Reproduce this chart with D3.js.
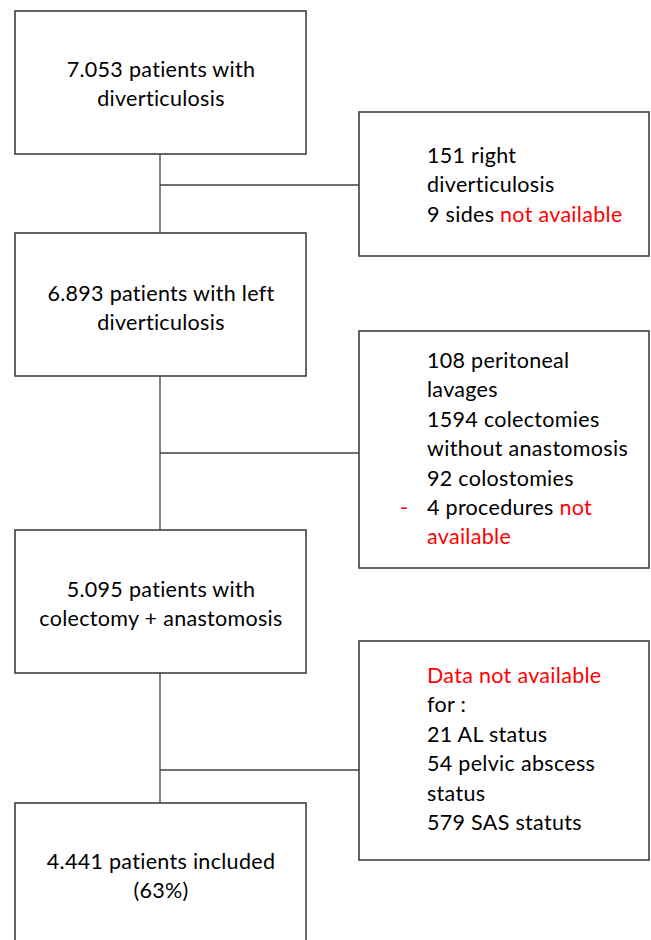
<!DOCTYPE html>
<html>
<head>
<meta charset="utf-8">
<script src="https://cdn.jsdelivr.net/npm/d3@7"></script>
<style>
  body { margin: 0; background: #fff; }
  svg { display: block; }
  text { font-family: Lato, "Open Sans", sans-serif; font-size: 21.5px; letter-spacing: 0.3px; fill: #000; }
</style>
</head>
<body>
<div id="flow" data-js-graph></div>
<script>
// main flow steps (left column)
const mainBoxes = [
  ['7.053 patients with', 'diverticulosis'],
  ['6.893 patients with left', 'diverticulosis'],
  ['5.095 patients with', 'colectomy + anastomosis'],
  ['4.441 patients included', '(63%)'],
];

// exclusions (right column), segments starting with * are red
const exclusionBoxes = [
  [['151 right'], ['diverticulosis'], ['9 sides ', '*not available']],
  [['108 peritoneal'], ['lavages'], ['1594 colectomies'], ['without anastomosis'],
    ['92 colostomies'], ['*-', '4 procedures ', '*not'], ['*available']],
  [['*Data not available'], ['for :'], ['21 AL status'], ['54 pelvic abscess'],
    ['status'], ['579 SAS statuts']],
];

const SETTING = {
  width: 651,
  height: 940,
  lineHeight: 29.4,
  main: { x0: 15, x1: 306, tops: [11, 233, 530, 803], h: 143, firstBase: [77, 301, 597, 869] },
  excl: { x0: 359, x1: 649, tops: [112, 331, 641], bottoms: [256, 568, 860], firstBase: [163, 368, 683], textX: 427, bulletX: 400 },
  joins: [185, 453, 770],
  stroke: '#404040',
  red: '#ff0000',
};

const svg = d3.select('#flow').append('svg')
  .attr('width', SETTING.width)
  .attr('height', SETTING.height);

const midX = (SETTING.main.x0 + SETTING.main.x1) / 2 - 0.5;

// vertical connectors between main boxes
svg.append('g')
  .selectAll('line')
  .data(d3.range(mainBoxes.length - 1))
  .join('line')
  .attr('x1', midX)
  .attr('x2', midX)
  .attr('y1', (i) => SETTING.main.tops[i] + SETTING.main.h)
  .attr('y2', (i) => SETTING.main.tops[i + 1])
  .attr('stroke', SETTING.stroke)
  .attr('stroke-width', 1.3);

// horizontal branches to exclusion boxes
svg.append('g')
  .selectAll('line')
  .data(SETTING.joins)
  .join('line')
  .attr('x1', midX)
  .attr('x2', SETTING.excl.x0)
  .attr('y1', (d) => d)
  .attr('y2', (d) => d)
  .attr('stroke', SETTING.stroke)
  .attr('stroke-width', 1.3);

// main boxes
const mainG = svg.append('g')
  .selectAll('g')
  .data(mainBoxes)
  .join('g');

mainG.append('rect')
  .attr('x', SETTING.main.x0)
  .attr('y', (d, i) => SETTING.main.tops[i])
  .attr('width', SETTING.main.x1 - SETTING.main.x0)
  .attr('height', SETTING.main.h)
  .attr('fill', 'none')
  .attr('stroke', SETTING.stroke)
  .attr('stroke-width', 1.6);

mainG.each(function (lines, i) {
  d3.select(this).selectAll('text')
    .data(lines)
    .join('text')
    .attr('x', midX + 1)
    .attr('y', (d, j) => SETTING.main.firstBase[i] + j * SETTING.lineHeight)
    .attr('text-anchor', 'middle')
    .text((d) => d);
});

// exclusion boxes
const exG = svg.append('g')
  .selectAll('g')
  .data(exclusionBoxes)
  .join('g');

exG.append('rect')
  .attr('x', SETTING.excl.x0)
  .attr('y', (d, i) => SETTING.excl.tops[i])
  .attr('width', SETTING.excl.x1 - SETTING.excl.x0)
  .attr('height', (d, i) => SETTING.excl.bottoms[i] - SETTING.excl.tops[i])
  .attr('fill', 'none')
  .attr('stroke', SETTING.stroke)
  .attr('stroke-width', 1.6);

exG.each(function (lines, i) {
  d3.select(this).selectAll('text')
    .data(lines)
    .join('text')
    .attr('y', (d, j) => SETTING.excl.firstBase[i] + j * SETTING.lineHeight)
    .each(function (segs) {
      const t = d3.select(this);
      let first = true;
      segs.forEach((s) => {
        const red = s.startsWith('*');
        const str = red ? s.slice(1) : s;
        const span = t.append('tspan').text(str);
        if (red) span.style('fill', SETTING.red);
        if (str === '-') {
          span.attr('x', SETTING.excl.bulletX);
          first = true;
          return;
        }
        if (first) span.attr('x', SETTING.excl.textX);
        first = false;
      });
    });
});
</script>
</body>
</html>
